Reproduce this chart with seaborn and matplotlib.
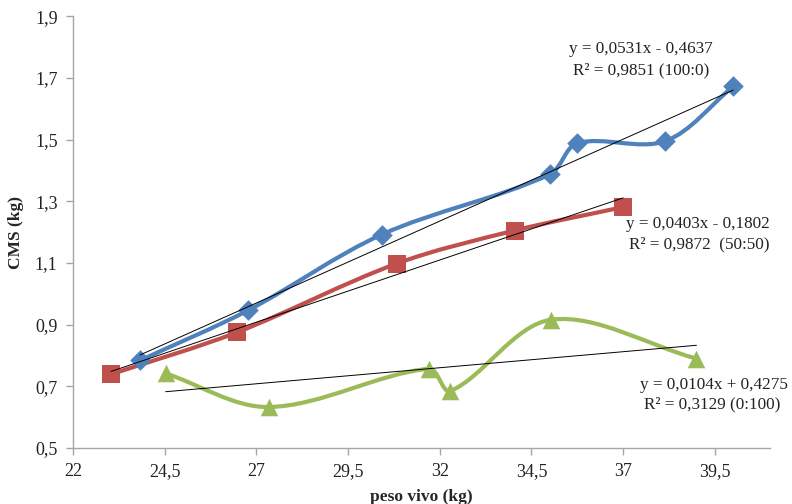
import matplotlib
matplotlib.use("Agg")
import matplotlib.pyplot as plt
import numpy as np
import pandas as pd
import seaborn as sns
from matplotlib.patches import PathPatch
from matplotlib.path import Path
from matplotlib.ticker import FixedLocator, FuncFormatter

# data: peso vivo (kg) vs CMS (kg)
peso_100 = [23.83, 26.77, 30.42, 35.0, 35.75, 38.15, 40.0]
cms_100 = [0.784, 0.946, 1.192, 1.387, 1.488, 1.495, 1.672]

peso_50 = [23.04, 26.47, 30.83, 34.04, 37.0]
cms_50 = [0.739, 0.875, 1.098, 1.205, 1.281]

peso_0 = [24.53, 27.34, 31.71, 32.29, 35.04, 39.0]
cms_0 = [0.742, 0.633, 0.757, 0.685, 0.916, 0.79]

# trend line coefficients as printed on the chart
coef_100 = (0.0531, -0.4637)
coef_50 = (0.0403, -0.1802)
coef_0 = (0.0104, 0.4275)

x_ticks = [22, 24.5, 27, 29.5, 32, 34.5, 37, 39.5]
y_ticks = [0.5, 0.7, 0.9, 1.1, 1.3, 1.5, 1.7, 1.9]

sns.set_style("white")
plt.rcParams["font.family"] = ["Liberation Serif", "DejaVu Serif"]

# rough pixel scale per data unit, used so the smoothing looks right on screen
SX, SY = 36.7, 308.6


def smooth_path(x, y):
    """Smoothed line through the points, bezier with length-scaled tangents."""
    p = np.column_stack([np.asarray(x) * SX, np.asarray(y) * SY])
    n = len(p)
    seg = np.linalg.norm(np.diff(p, axis=0), axis=1)
    tang = []
    for i in range(n):
        a = p[max(i - 1, 0)]
        b = p[min(i + 1, n - 1)]
        tang.append(b - a)
    verts = [p[0]]
    codes = [Path.MOVETO]
    for i in range(n - 1):
        l_prev = seg[i - 1] if i > 0 else 0.0
        l_next = seg[i + 1] if i + 1 < n - 1 else 0.0
        c1 = p[i] + tang[i] * seg[i] / (3 * (l_prev + seg[i]))
        c2 = p[i + 1] - tang[i + 1] * seg[i] / (3 * (seg[i] + l_next))
        verts += [c1, c2, p[i + 1]]
        codes += [Path.CURVE4] * 3
    verts = np.array(verts) / [SX, SY]
    return Path(verts, codes)


fig = plt.figure(figsize=(7.92, 5.04), dpi=100)
ax = fig.add_axes([0.092, 0.111, 0.88, 0.857])

series = [
    (peso_100, cms_100, coef_100, "#4F81BD", "D", 110),
    (peso_50, cms_50, coef_50, "#C0504D", "s", 150),
    (peso_0, cms_0, coef_0, "#9BBB59", "^", 160),
]

for px, py, coef, color, marker, size in series:
    ax.add_patch(PathPatch(smooth_path(px, py), fill=False, edgecolor=color,
                           lw=3.0, capstyle="round", joinstyle="round", zorder=2))
    df = pd.DataFrame({"peso": px, "cms": py})
    sns.scatterplot(data=df, x="peso", y="cms", marker=marker, s=size,
                    color=color, edgecolor=color, linewidth=0, ax=ax, zorder=3)
    xt = np.array([min(px), max(px)])
    ax.plot(xt, coef[0] * xt + coef[1], color="black", lw=0.7, zorder=4)

txt = dict(fontsize=12.3, color="#222222")
ax.text(37.48, 1.782, "y = 0,0531x - 0,4637", ha="center", **txt)
ax.text(37.48, 1.712, "R² = 0,9851 (100:0)", ha="center", **txt)
ax.text(41.0, 1.214, "y = 0,0403x - 0,1802", ha="right", **txt)
ax.text(41.0, 1.146, "R² = 0,9872  (50:50)", ha="right", **txt)
ax.text(41.5, 0.693, "y = 0,0104x + 0,4275", ha="right", **txt)
ax.text(41.3, 0.628, "R² = 0,3129 (0:100)", ha="right", **txt)

ax.set_xlim(22, 41)
ax.set_ylim(0.5, 1.9)
ax.xaxis.set_major_locator(FixedLocator(x_ticks))
ax.yaxis.set_major_locator(FixedLocator(y_ticks))
comma = FuncFormatter(lambda v, pos: f"{v:g}".replace(".", ","))
ax.xaxis.set_major_formatter(comma)
ax.yaxis.set_major_formatter(comma)

for side in ["top", "right"]:
    ax.spines[side].set_visible(False)
for side in ["left", "bottom"]:
    ax.spines[side].set_color("#a6a6a6")
    ax.spines[side].set_linewidth(1.0)
ax.tick_params(axis="both", direction="out", length=5, width=1.0,
               color="#a6a6a6", labelsize=13, labelcolor="#222222",
               bottom=True, left=True, pad=6)

ax.set_xlabel("peso vivo (kg)", fontsize=12.5, fontweight="bold", labelpad=6)
ax.set_ylabel("CMS (kg)", fontsize=12.5, fontweight="bold", labelpad=8)

fig.savefig("out.png", dpi=100)
